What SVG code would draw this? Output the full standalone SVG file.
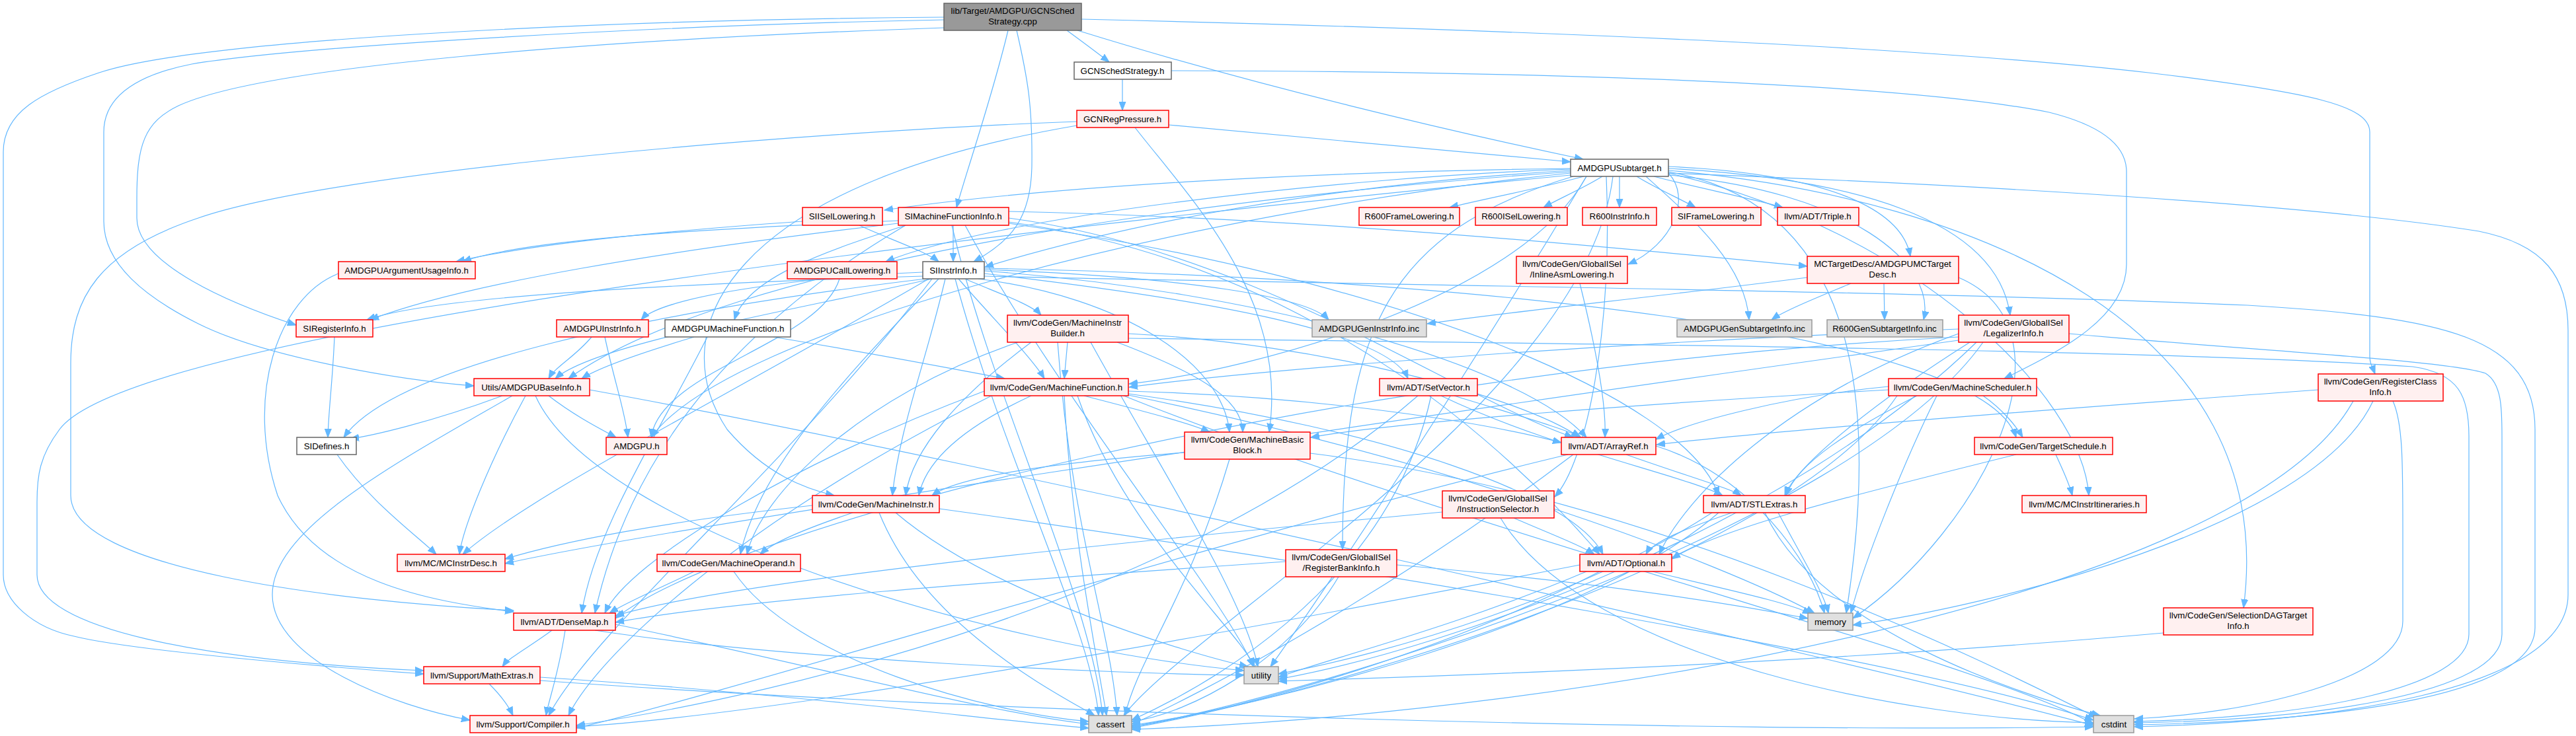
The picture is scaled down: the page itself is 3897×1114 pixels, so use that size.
<svg xmlns="http://www.w3.org/2000/svg" width="3897" height="1114" viewBox="0 0 3897 1114">
<style>
.r rect{fill:#fff0f0;stroke:#ff0000;stroke-width:1.5}
.w rect{fill:#ffffff;stroke:#666666;stroke-width:1.5}
.g rect{fill:#e0e0e0;stroke:#999999;stroke-width:1.5}
.k rect{fill:#999999;stroke:#666666;stroke-width:1.5}
text{font-family:"Liberation Sans",Arial,Helvetica,sans-serif;font-size:13.3px;text-anchor:middle;fill:#000000}
.e path{fill:none;stroke:#63b8ff;stroke-width:1.2;marker-end:url(#a)}
</style>
<defs>
<marker id="a" markerUnits="userSpaceOnUse" markerWidth="14" markerHeight="11" refX="13" refY="5.5" orient="auto">
<path d="M0,0.5 L13,5.5 L0,10.5 z" fill="#63b8ff" stroke="#63b8ff" stroke-width="1"/>
</marker>
</defs>
<rect x="0" y="0" width="3897" height="1114" fill="#ffffff"/>
<g id="edges" class="e">
<!-- root -->
<path d="M1614,46 C1640,65 1660,80 1678,94"/>
<path d="M1630,46 C1900,130 2200,200 2395,241"/>
<path d="M1525,46 C1500,150 1465,250 1447,314"/>
<path d="M1538,46 C1555,120 1562,160 1561,250 C1560,330 1530,365 1473,396"/>
<path d="M1428,42 C900,60 400,100 270,160 C218,185 207,220 207,300 L207,330 C207,400 350,460 448,492"/>
<path d="M1428,30 C1000,38 450,70 290,97 C200,115 157,150 157,200 L157,335 C157,400 220,450 300,490 C400,540 600,575 717,584"/>
<path d="M1428,26 C900,30 300,60 150,110 C60,140 5,170 5,230 L5,870 C5,910 50,950 112,963 C200,985 500,1010 641,1020"/>
<path d="M1636,29 C2300,45 2900,70 3250,110 C3500,140 3585,160 3585,200 L3585,540 C3585,552 3590,558 3593,566"/>
<!-- GCNSchedStrategy.h -->
<path d="M1698,120 L1698,167"/>
<path d="M1772,107 C2400,108 2900,130 3100,170 C3180,190 3217,220 3217,260 L3217,400 C3217,480 3120,530 3032,573"/>
<!-- GCNRegPressure.h -->
<path d="M1768,189 C2000,210 2200,230 2376,245"/>
<path d="M1629,184 C1200,200 500,260 300,330 C150,380 107,450 107,550 L107,750 C107,860 500,910 777,924"/>
<path d="M1629,190 C1100,280 1000,500 1100,650 C1160,720 1220,740 1262,750"/>
<path d="M1717,193 C1800,300 1950,450 1920,654"/>
<!-- AMDGPUSubtarget.h -->
<path d="M2396,267 C2330,285 2250,300 2193,314"/>
<path d="M2424,267 C2395,285 2360,300 2335,314"/>
<path d="M2450,267 L2450,314"/>
<path d="M2476,267 C2505,285 2540,300 2565,314"/>
<path d="M2502,267 C2570,285 2650,300 2697,314"/>
<path d="M2376,255 C2000,260 1600,280 1338,318"/>
<path d="M2376,258 C2000,280 1700,340 1490,404"/>
<path d="M2376,256 C2000,270 1500,330 1340,396"/>
<path d="M2376,260 C1800,300 1100,400 860,573"/>
<path d="M2376,262 C1800,320 1100,500 985,662"/>
<path d="M2524,262 C2560,300 2530,370 2463,400"/>
<path d="M2430,267 C2440,500 2400,700 2352,752"/>
<path d="M2524,255 C2800,270 3020,330 3041,477"/>
<path d="M2380,267 C2100,350 2031,500 2031,832"/>
<path d="M2400,267 C2300,450 1900,560 1708,581"/>
<path d="M2524,258 C3000,300 3450,500 3394,920"/>
<path d="M2524,262 C2900,350 3150,600 3160,750"/>
<path d="M2376,265 C1500,350 200,500 90,650 C60,690 56,720 56,760 L56,870 C56,950 300,1000 641,1015"/>
<path d="M2440,267 C2400,600 1800,950 1700,1083"/>
<path d="M2524,262 C3000,280 3500,310 3750,350 C3850,370 3885,420 3885,500 L3885,900 C3885,1050 3500,1094 3229,1100"/>
<path d="M2524,260 C2750,300 2860,500 2793,928"/>
<path d="M2400,267 C2200,600 2000,900 1922,1009"/>
<path d="M2490,267 C2560,330 2640,400 2646,484"/>
<path d="M2524,265 C2800,290 2930,400 2910,484"/>
<path d="M2524,252 C2800,265 2880,330 2890,388"/>
<!-- SIMachineFunctionInfo.h -->
<path d="M1359,334 C1100,345 800,360 700,396"/>
<path d="M1370,341 C1250,380 1130,420 1111,484"/>
<path d="M1526,320 C2000,330 2500,380 2734,403"/>
<path d="M1442,341 L1442,396"/>
<path d="M1359,338 C1000,380 700,430 560,484"/>
<path d="M1526,330 C1900,380 2200,600 2380,662"/>
<path d="M1370,341 C1100,500 950,700 900,928"/>
<path d="M1526,336 C2000,400 2300,700 2420,839"/>
<path d="M1526,338 C2100,420 2550,600 2600,750"/>
<path d="M1440,341 C1500,600 1650,900 1668,1083"/>
<path d="M1460,341 C1600,600 1850,900 1896,1009"/>
<!-- SIISelLowering.h -->
<path d="M1214,335 C1000,350 800,370 690,396"/>
<path d="M1300,341 C1340,360 1400,380 1420,396"/>
<!-- AMDGPUCallLowering.h -->
<path d="M1270,422 C1240,520 1000,560 985,662"/>
<!-- SIInstrInfo.h -->
<path d="M1396,412 C1200,420 1000,450 970,484"/>
<path d="M1400,422 C1000,470 600,550 520,662"/>
<path d="M1396,418 C1000,430 650,450 555,484"/>
<path d="M1410,422 C1200,470 900,520 840,573"/>
<path d="M1489,410 C1900,440 2300,550 2400,662"/>
<path d="M1489,414 C1800,450 2100,500 2130,573"/>
<path d="M1480,422 C1700,450 1850,550 1860,654"/>
<path d="M1450,422 C1500,480 1560,540 1580,573"/>
<path d="M1430,422 C1400,550 1360,650 1350,750"/>
<path d="M1460,422 C1500,440 1560,460 1575,477"/>
<path d="M1420,422 C1300,550 1150,700 1120,839"/>
<path d="M1489,406 C2200,420 3000,500 3050,662"/>
<path d="M1405,422 C1100,600 800,750 700,839"/>
<path d="M1410,422 C1200,700 900,950 830,1083"/>
<path d="M1445,422 C1520,700 1650,950 1662,1083"/>
<path d="M1489,418 C2000,430 2900,440 3400,462 C3700,480 3835,510 3835,650 L3835,950 C3835,1060 3500,1092 3229,1097"/>
<path d="M1489,408 C1800,420 1980,450 2010,484"/>
<!-- AMDGPUInstrInfo.h -->
<path d="M915,510 C930,580 945,620 950,662"/>
<path d="M895,510 C870,540 840,555 830,573"/>
<!-- SIRegisterInfo.h -->
<path d="M506,510 C503,580 497,620 496,662"/>
<!-- AMDGPUArgumentUsageInfo.h -->
<path d="M512,414 C420,450 370,600 420,750 C480,880 650,910 777,926"/>
<!-- AMDGPUMachineFunction.h -->
<path d="M1170,510 C1350,540 1450,560 1520,573"/>
<path d="M1070,510 C1000,650 900,800 880,928"/>
<path d="M1050,510 C950,540 900,560 880,573"/>
<!-- MachineInstrBuilder.h -->
<path d="M1707,505 C2000,520 2300,600 2390,662"/>
<path d="M1690,518 C1800,560 1880,600 1880,654"/>
<path d="M1615,518 L1610,573"/>
<path d="M1560,518 C1450,600 1380,680 1370,750"/>
<path d="M1540,518 C1300,600 1150,750 1130,839"/>
<path d="M1600,518 C1620,800 1680,950 1690,1083"/>
<path d="M1707,512 C2400,520 3300,530 3650,555 C3720,565 3735,600 3735,660 L3735,960 C3735,1040 3500,1086 3229,1092"/>
<path d="M1650,518 C1750,700 1880,900 1903,1009"/>
<!-- MachineFunction.h -->
<path d="M1707,592 C2000,600 2250,640 2362,670"/>
<path d="M1489,592 C1200,700 950,850 915,928"/>
<path d="M1707,596 C2100,650 2380,750 2425,839"/>
<path d="M1640,599 C1720,620 1800,640 1830,654"/>
<path d="M1560,599 C1450,650 1400,700 1390,750"/>
<path d="M1500,599 C1100,800 900,1000 860,1083"/>
<path d="M1610,599 C1620,800 1660,1000 1674,1083"/>
<path d="M1700,599 C2200,800 3000,1000 3167,1096"/>
<path d="M1707,598 C2200,700 2600,850 2745,928"/>
<path d="M1630,599 C1700,800 1870,950 1898,1009"/>
<!-- MachineBasicBlock.h -->
<path d="M1792,685 C1600,700 1450,720 1410,750"/>
<path d="M1860,695 C1800,900 1720,1000 1702,1083"/>
<path d="M1982,686 C2500,750 3000,1000 3172,1086"/>
<!-- MachineInstr.h -->
<path d="M1229,765 C1000,790 850,820 764,846"/>
<path d="M1290,776 C1220,800 1170,820 1150,839"/>
<path d="M1330,776 C1400,950 1600,1050 1656,1083"/>
<path d="M1421,770 C2000,850 2900,1000 3167,1090"/>
<path d="M1355,776 C1500,900 1800,990 1888,1009"/>
<!-- MachineOperand.h -->
<path d="M1050,865 C1000,890 950,910 922,928"/>
<path d="M1110,865 C1200,1000 1500,1080 1647,1092"/>
<!-- SetVector.h -->
<path d="M2200,599 C2300,630 2370,650 2392,662"/>
<path d="M2180,599 C2350,680 2550,720 2606,750"/>
<path d="M2145,599 C1800,900 1200,1050 872,1098"/>
<path d="M2165,599 C2100,900 1800,1050 1712,1090"/>
<!-- ArrayRef.h -->
<path d="M2460,688 C2550,720 2620,740 2634,750"/>
<path d="M2372,688 C1900,800 1100,1050 872,1102"/>
<path d="M2380,688 C2100,900 1800,1060 1712,1096"/>
<path d="M2505,675 C2650,720 2740,850 2760,928"/>
<!-- STLExtras.h -->
<path d="M2620,776 C2550,800 2500,820 2490,839"/>
<path d="M2600,776 C2400,950 1900,1070 1712,1098"/>
<path d="M2670,776 C2750,950 3050,1050 3177,1083"/>
<path d="M2690,776 C2730,850 2760,900 2766,928"/>
<path d="M2590,776 C2400,900 2100,990 1934,1020"/>
<!-- Optional.h -->
<path d="M2390,855 C1900,950 1200,1080 872,1100"/>
<path d="M2420,865 C2200,980 1900,1070 1712,1100"/>
<path d="M2500,865 C2600,890 2700,910 2740,929"/>
<path d="M2400,865 C2200,950 2000,1000 1934,1025"/>
<!-- DenseMap.h -->
<path d="M835,954 C800,980 770,995 760,1009"/>
<path d="M855,954 C845,1020 830,1060 826,1083"/>
<path d="M931,945 C1200,1000 1500,1080 1647,1096"/>
<path d="M900,954 C1200,1000 1700,1020 1882,1022"/>
<!-- MathExtras.h -->
<path d="M740,1035 C760,1055 770,1070 776,1083"/>
<path d="M817,1025 C1200,1050 1500,1090 1647,1102"/>
<path d="M817,1030 C1500,1080 2600,1110 3167,1100"/>
<!-- Utils/AMDGPUBaseInfo.h -->
<path d="M830,599 C870,630 910,650 932,662"/>
<path d="M760,599 C650,640 560,660 530,664"/>
<path d="M795,599 C740,700 700,800 695,839"/>
<path d="M775,599 C600,700 412,800 412,900 C412,1000 600,1070 711,1090"/>
<path d="M892,590 C1500,700 2800,1000 3167,1098"/>
<path d="M810,599 C900,800 1500,980 1882,1015"/>
<!-- SIDefines.h -->
<path d="M510,688 C560,760 630,810 660,839"/>
<!-- InlineAsmLowering.h -->
<path d="M2390,429 C2420,550 2430,620 2428,662"/>
<!-- AMDGPUMCTargetDesc.h -->
<path d="M2734,420 C2500,450 2300,470 2159,490"/>
<path d="M2800,429 C2750,450 2700,470 2680,484"/>
<path d="M2850,429 L2851,484"/>
<path d="M2963,420 C3150,500 3000,800 2803,936"/>
<!-- LegalizerInfo.h -->
<path d="M2963,510 C2000,560 1100,800 931,936"/>
<path d="M2963,505 C2700,600 2550,750 2510,839"/>
<path d="M2980,518 C2850,600 2720,700 2700,750"/>
<path d="M2963,498 C2400,520 1900,560 1708,586"/>
<path d="M2963,515 C2000,650 1000,800 764,853"/>
<path d="M3000,518 C2800,800 2000,1050 1712,1100"/>
<path d="M3130,505 C3400,530 3700,545 3760,565 C3785,580 3785,620 3785,660 L3785,960 C3785,1050 3500,1090 3229,1094"/>
<path d="M2990,518 C2700,800 2200,980 1934,1028"/>
<!-- MachineScheduler.h -->
<path d="M2857,585 C2700,600 2550,640 2505,665"/>
<path d="M2900,599 C2800,650 2720,700 2702,750"/>
<path d="M2857,590 C2500,610 2100,640 1983,662"/>
<path d="M3000,599 C3030,620 3050,645 3060,662"/>
<path d="M2870,599 C2700,850 2000,1050 1712,1102"/>
<path d="M2930,599 C2880,700 2820,850 2800,928"/>
<!-- TargetSchedule.h -->
<path d="M3050,688 C2800,750 2600,800 2529,846"/>
<path d="M3110,688 C3120,710 3130,730 3135,750"/>
<!-- RegisterClassInfo.h -->
<path d="M3507,590 C3100,620 2700,650 2506,673"/>
<path d="M3560,607 C3400,900 2400,1080 1712,1104"/>
<path d="M3620,607 C3635,640 3635,700 3635,800 L3635,940 C3635,1030 3400,1080 3229,1088"/>
<path d="M3590,607 C3500,800 3000,920 2803,946"/>
<!-- SelectionDAGTargetInfo.h -->
<path d="M3273,958 C2800,1000 2300,1020 1934,1031"/>
<!-- InstructionSelector.h -->
<path d="M2182,775 C1700,820 1100,880 931,932"/>
<path d="M2290,784 C2350,810 2390,825 2412,839"/>
<path d="M2270,784 C2400,1000 2900,1090 3167,1094"/>
<!-- RegisterBankInfo.h -->
<path d="M1945,850 C1500,880 1100,910 931,942"/>
<path d="M2025,873 C1950,1000 1800,1080 1712,1092"/>
<path d="M2113,855 C2400,880 2600,910 2735,936"/>
</g>
<g id="n0" class="k"><rect x="1428" y="5" width="208" height="41"/><text x="1532" y="21">lib/Target/AMDGPU/GCNSched</text><text x="1532" y="37">Strategy.cpp</text></g>
<g id="n1" class="w"><rect x="1625" y="94" width="147" height="26"/><text x="1698" y="112">GCNSchedStrategy.h</text></g>
<g id="n2" class="r"><rect x="1629" y="167" width="139" height="26"/><text x="1698" y="185">GCNRegPressure.h</text></g>
<g id="n3" class="w"><rect x="2376" y="241" width="148" height="26"/><text x="2450" y="259">AMDGPUSubtarget.h</text></g>
<g id="n4" class="r"><rect x="1214" y="314" width="121" height="27"/><text x="1274" y="332">SIISelLowering.h</text></g>
<g id="n5" class="r"><rect x="1359" y="314" width="167" height="27"/><text x="1442" y="332">SIMachineFunctionInfo.h</text></g>
<g id="n6" class="r"><rect x="2056" y="314" width="152" height="27"/><text x="2132" y="332">R600FrameLowering.h</text></g>
<g id="n7" class="r"><rect x="2232" y="314" width="139" height="27"/><text x="2301" y="332">R600ISelLowering.h</text></g>
<g id="n8" class="r"><rect x="2394" y="314" width="112" height="27"/><text x="2450" y="332">R600InstrInfo.h</text></g>
<g id="n9" class="r"><rect x="2529" y="314" width="135" height="27"/><text x="2596" y="332">SIFrameLowering.h</text></g>
<g id="n10" class="r"><rect x="2689" y="314" width="123" height="27"/><text x="2750" y="332">llvm/ADT/Triple.h</text></g>
<g id="n11" class="r"><rect x="512" y="396" width="207" height="26"/><text x="615" y="414">AMDGPUArgumentUsageInfo.h</text></g>
<g id="n12" class="r"><rect x="1191" y="396" width="166" height="26"/><text x="1274" y="414">AMDGPUCallLowering.h</text></g>
<g id="n13" class="w"><rect x="1396" y="396" width="93" height="26"/><text x="1442" y="414">SIInstrInfo.h</text></g>
<g id="n14" class="r"><rect x="2294" y="388" width="168" height="41"/><text x="2378" y="404">llvm/CodeGen/GlobalISel</text><text x="2378" y="420">/InlineAsmLowering.h</text></g>
<g id="n15" class="r"><rect x="2734" y="388" width="229" height="41"/><text x="2848" y="404">MCTargetDesc/AMDGPUMCTarget</text><text x="2848" y="420">Desc.h</text></g>
<g id="n16" class="r"><rect x="448" y="484" width="116" height="26"/><text x="506" y="502">SIRegisterInfo.h</text></g>
<g id="n17" class="r"><rect x="842" y="484" width="139" height="26"/><text x="911" y="502">AMDGPUInstrInfo.h</text></g>
<g id="n18" class="w"><rect x="1006" y="484" width="190" height="26"/><text x="1101" y="502">AMDGPUMachineFunction.h</text></g>
<g id="n19" class="r"><rect x="1524" y="477" width="183" height="41"/><text x="1615" y="493">llvm/CodeGen/MachineInstr</text><text x="1615" y="509">Builder.h</text></g>
<g id="n20" class="g"><rect x="1985" y="484" width="173" height="26"/><text x="2071" y="502">AMDGPUGenInstrInfo.inc</text></g>
<g id="n21" class="g"><rect x="2537" y="484" width="204" height="26"/><text x="2639" y="502">AMDGPUGenSubtargetInfo.inc</text></g>
<g id="n22" class="g"><rect x="2764" y="484" width="175" height="26"/><text x="2851" y="502">R600GenSubtargetInfo.inc</text></g>
<g id="n23" class="r"><rect x="2963" y="477" width="167" height="41"/><text x="3046" y="493">llvm/CodeGen/GlobalISel</text><text x="3046" y="509">/LegalizerInfo.h</text></g>
<g id="n24" class="r"><rect x="3507" y="566" width="189" height="41"/><text x="3601" y="582">llvm/CodeGen/RegisterClass</text><text x="3601" y="598">Info.h</text></g>
<g id="n25" class="r"><rect x="717" y="573" width="175" height="26"/><text x="804" y="591">Utils/AMDGPUBaseInfo.h</text></g>
<g id="n26" class="r"><rect x="1489" y="573" width="218" height="26"/><text x="1598" y="591">llvm/CodeGen/MachineFunction.h</text></g>
<g id="n27" class="r"><rect x="2087" y="573" width="148" height="26"/><text x="2161" y="591">llvm/ADT/SetVector.h</text></g>
<g id="n28" class="r"><rect x="2857" y="573" width="224" height="26"/><text x="2969" y="591">llvm/CodeGen/MachineScheduler.h</text></g>
<g id="n29" class="w"><rect x="449" y="662" width="90" height="26"/><text x="494" y="680">SIDefines.h</text></g>
<g id="n30" class="r"><rect x="917" y="662" width="92" height="26"/><text x="963" y="680">AMDGPU.h</text></g>
<g id="n31" class="r"><rect x="1792" y="654" width="190" height="41"/><text x="1887" y="670">llvm/CodeGen/MachineBasic</text><text x="1887" y="686">Block.h</text></g>
<g id="n32" class="r"><rect x="2362" y="662" width="143" height="26"/><text x="2433" y="680">llvm/ADT/ArrayRef.h</text></g>
<g id="n33" class="r"><rect x="2987" y="662" width="209" height="26"/><text x="3091" y="680">llvm/CodeGen/TargetSchedule.h</text></g>
<g id="n34" class="r"><rect x="1229" y="750" width="192" height="26"/><text x="1325" y="768">llvm/CodeGen/MachineInstr.h</text></g>
<g id="n35" class="r"><rect x="2182" y="743" width="169" height="41"/><text x="2266" y="759">llvm/CodeGen/GlobalISel</text><text x="2266" y="775">/InstructionSelector.h</text></g>
<g id="n36" class="r"><rect x="2577" y="750" width="154" height="26"/><text x="2654" y="768">llvm/ADT/STLExtras.h</text></g>
<g id="n37" class="r"><rect x="3059" y="750" width="188" height="26"/><text x="3153" y="768">llvm/MC/MCInstrItineraries.h</text></g>
<g id="n38" class="r"><rect x="601" y="839" width="163" height="26"/><text x="682" y="857">llvm/MC/MCInstrDesc.h</text></g>
<g id="n39" class="r"><rect x="994" y="839" width="217" height="26"/><text x="1102" y="857">llvm/CodeGen/MachineOperand.h</text></g>
<g id="n40" class="r"><rect x="1945" y="832" width="168" height="41"/><text x="2029" y="848">llvm/CodeGen/GlobalISel</text><text x="2029" y="864">/RegisterBankInfo.h</text></g>
<g id="n41" class="r"><rect x="2390" y="839" width="139" height="26"/><text x="2460" y="857">llvm/ADT/Optional.h</text></g>
<g id="n42" class="r"><rect x="3273" y="920" width="226" height="41"/><text x="3386" y="936">llvm/CodeGen/SelectionDAGTarget</text><text x="3386" y="952">Info.h</text></g>
<g id="n43" class="r"><rect x="777" y="928" width="154" height="26"/><text x="854" y="946">llvm/ADT/DenseMap.h</text></g>
<g id="n44" class="g"><rect x="2735" y="928" width="68" height="26"/><text x="2769" y="946">memory</text></g>
<g id="n45" class="r"><rect x="641" y="1009" width="176" height="26"/><text x="729" y="1027">llvm/Support/MathExtras.h</text></g>
<g id="n46" class="g"><rect x="1882" y="1009" width="52" height="26"/><text x="1908" y="1027">utility</text></g>
<g id="n47" class="r"><rect x="711" y="1083" width="161" height="26"/><text x="791" y="1101">llvm/Support/Compiler.h</text></g>
<g id="n48" class="g"><rect x="1647" y="1083" width="65" height="26"/><text x="1680" y="1101">cassert</text></g>
<g id="n49" class="g"><rect x="3167" y="1083" width="61" height="26"/><text x="3198" y="1101">cstdint</text></g>
</svg>
